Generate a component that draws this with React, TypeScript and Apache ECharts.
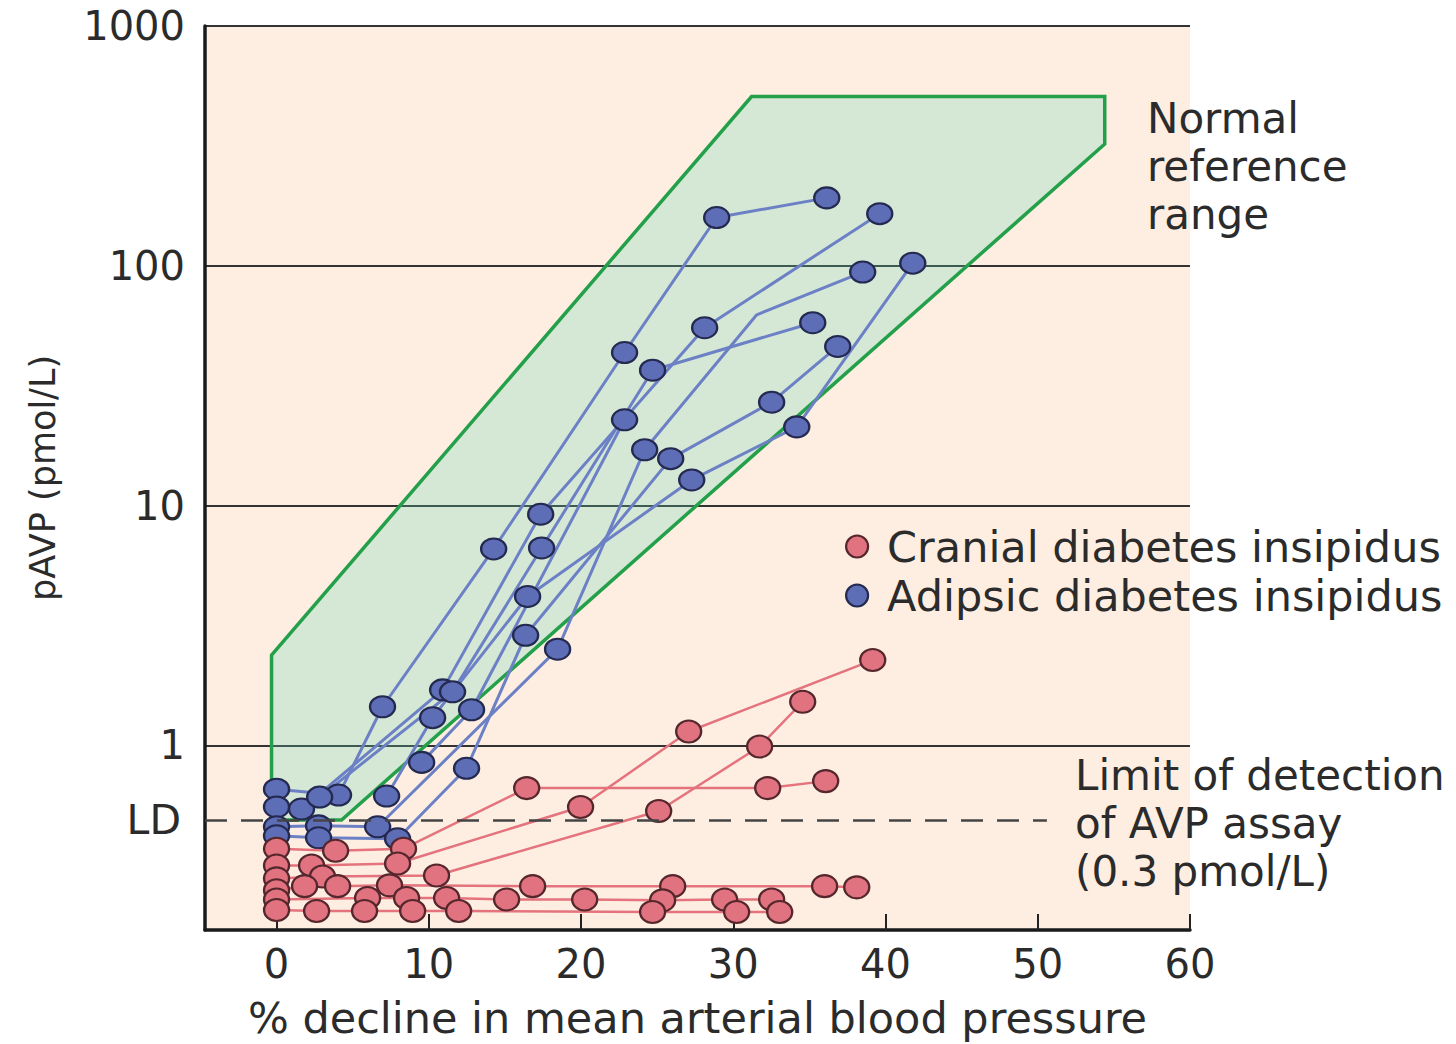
import React, { useEffect, useRef } from "react";
import * as echarts from "echarts";

// ---- axis / reference values ----
const xTickValues = [0, 10, 20, 30, 40, 50, 60];
const yTickValues = [1, 10, 100, 1000];
const LD_VALUE = 0.489; // "Limit of detection" line, drawn where it sits on the figure

// ---- normal reference range polygon (x %, pAVP) ----
const normalRange: [number, number][] = [
  [-0.33, 2.38],
  [31.2, 508],
  [54.4, 508],
  [54.4, 322],
  [4.27, 0.489],
  [-0.33, 0.489],
];

// ---- Adipsic diabetes insipidus (one list per patient); third value 0 = bend without marker ----
const adipsicA = [[0, 0.657], [4.07, 0.621], [6.96, 1.45], [14.26, 6.6], [22.86, 43.5], [28.91, 159], [36.14, 192]];
const adipsicB = [[0, 0.554], [1.64, 0.543], [10.91, 1.705], [17.35, 9.21], [28.12, 55.2], [39.62, 165]];
const adipsicC = [[2.83, 0.609], [11.56, 1.673], [17.41, 6.66], [24.7, 36.7], [35.22, 57.9]];
const adipsicD = [[0, 0.458], [2.76, 0.462], [6.64, 0.458], [18.46, 2.52], [24.18, 17.1], [31.54, 62.5, 0], [38.5, 94.2]];
const adipsicE = [[0, 0.42], [2.76, 0.412], [7.95, 0.408], [12.48, 0.803], [16.36, 2.88], [25.89, 15.7], [32.52, 27.0], [36.86, 46.1]];
const adipsicF = [[7.23, 0.615], [10.25, 1.306], [16.49, 4.18], [27.27, 12.8], [34.17, 21.3], [41.79, 102.6]];
const adipsicG = [[9.53, 0.85], [12.81, 1.409], [22.86, 22.8]];
const adipsicPatients = [adipsicA, adipsicB, adipsicC, adipsicD, adipsicE, adipsicF, adipsicG];

// ---- Cranial diabetes insipidus ----
const cranial1 = [[0, 0.371], [3.88, 0.364], [8.34, 0.371], [16.43, 0.664], [32.26, 0.664], [36.07, 0.71]];
const cranial2 = [[0, 0.316], [2.3, 0.316], [7.95, 0.322], [19.97, 0.554], [27.07, 1.143], [39.16, 2.27]];
const cranial3 = [[0, 0.279], [3.02, 0.284], [10.51, 0.287], [25.1, 0.533], [31.73, 0.99], [34.56, 1.52]];
const cranial4 = [[0, 0.249], [1.84, 0.259], [4.01, 0.259], [7.42, 0.261], [16.82, 0.259], [26.02, 0.259], [36.0, 0.259], [38.11, 0.256]];
const cranial5 = [[0, 0.228], [5.98, 0.231], [8.54, 0.231], [11.17, 0.231], [15.11, 0.228], [20.24, 0.228], [25.36, 0.226], [29.43, 0.228], [32.52, 0.228]];
const cranial6 = [[0, 0.206], [2.63, 0.204], [5.78, 0.204], [8.94, 0.204], [11.96, 0.204], [24.7, 0.202], [30.22, 0.202], [33.05, 0.202]];
const cranialPatients = [cranial1, cranial2, cranial3, cranial4, cranial5, cranial6];

const CRANIAL = "Cranial diabetes insipidus";
const ADIPSIC = "Adipsic diabetes insipidus";

const FONT = "DejaVu Sans";
const TEXT = "#2b2b2b";
const DOT_PATH = "path://M0,10a10,10 0 1,0 20,0a10,10 0 1,0 -20,0z";

const blueItem = { color: "#5d6db6", borderColor: "#242950", borderWidth: 2.2 };
const redItem = { color: "#e0737f", borderColor: "#55272d", borderWidth: 2.2 };

function toData(pts: number[][]) {
  return pts.map((p) =>
    p.length > 2 && p[2] === 0 ? { value: [p[0], p[1]], symbol: "none" } : [p[0], p[1]]
  );
}

export default function App() {
  const ref = useRef<HTMLDivElement>(null);

  useEffect(() => {
    document.body.style.margin = "0";
    if (!ref.current) return;
    const chart = echarts.init(ref.current, null, { renderer: "svg" });

    const blueSeries = adipsicPatients.map((pts) => ({
      name: ADIPSIC,
      type: "line",
      data: toData(pts),
      symbol: DOT_PATH,
      symbolSize: [25, 21],
      lineStyle: { color: "#6c80c6", width: 3 },
      itemStyle: blueItem,
      z: 3,
    }));

    const redSeries = cranialPatients.map((pts, i) => ({
      name: CRANIAL,
      type: "line",
      data: toData(pts),
      symbol: DOT_PATH,
      symbolSize: [25, 22],
      lineStyle: { color: "#e4737e", width: 2.5 },
      itemStyle: redItem,
      z: 4,
      ...(i === 0
        ? {
            markLine: {
              silent: true,
              symbol: "none",
              lineStyle: { color: "#444", width: 2.5, type: [22, 14] },
              label: {
                show: true,
                position: "start",
                formatter: "LD",
                fontSize: 41,
                fontFamily: FONT,
                color: TEXT,
                distance: 24,
              },
              data: [[{ coord: [-4.7, LD_VALUE] }, { coord: [50.6, LD_VALUE] }]],
            },
          }
        : {}),
    }));

    const option: any = {
      animation: false,
      backgroundColor: "#ffffff",
      textStyle: { fontFamily: FONT },
      grid: {
        left: 205,
        right: 266,
        top: 26,
        bottom: 107,
        show: true,
        backgroundColor: "#fdeee1",
        borderWidth: 0,
      },
      legend: {
        orient: "vertical",
        left: 840,
        top: 520,
        itemWidth: 24,
        itemHeight: 22,
        itemGap: 6,
        icon: DOT_PATH,
        textStyle: { fontSize: 43, color: TEXT, fontFamily: FONT, padding: [0, 0, 0, 13] },
        data: [
          { name: CRANIAL, itemStyle: redItem },
          { name: ADIPSIC, itemStyle: blueItem },
        ],
      },
      xAxis: {
        type: "value",
        min: -4.7,
        max: 60,
        name: "% decline in mean arterial blood pressure",
        nameLocation: "middle",
        nameGap: 66,
        nameTextStyle: { fontSize: 43, color: TEXT, fontFamily: FONT },
        axisLine: { show: true, onZero: false, lineStyle: { color: "#1a1a1a", width: 3.5 } },
        axisTick: {
          show: true,
          inside: true,
          length: 16,
          customValues: xTickValues,
          lineStyle: { color: "#222", width: 2 },
        },
        axisLabel: {
          customValues: xTickValues,
          fontSize: 40,
          color: TEXT,
          fontFamily: FONT,
          margin: 14,
        },
        splitLine: { show: false },
      },
      yAxis: {
        type: "log",
        logBase: 10,
        min: 0.17,
        max: 1000,
        name: "pAVP (pmol/L)",
        nameLocation: "middle",
        nameGap: 145,
        nameRotate: 90,
        nameTextStyle: { fontSize: 35, color: TEXT, fontFamily: FONT },
        axisLine: { show: true, onZero: false, lineStyle: { color: "#1a1a1a", width: 3.5 } },
        axisTick: { show: false },
        axisLabel: {
          fontSize: 40,
          color: TEXT,
          fontFamily: FONT,
          margin: 20,
          formatter: (v: number) => {
            const hit = yTickValues.find((t) => Math.abs(t - v) / t < 1e-6);
            return hit !== undefined ? String(hit) : "";
          },
        },
        splitLine: { show: true, lineStyle: { color: "#333", width: 2 } },
      },
      graphic: [
        {
          type: "text",
          x: 1147,
          y: 166,
          style: {
            text: "Normal\nreference\nrange",
            fontSize: 42,
            lineHeight: 48,
            fontFamily: FONT,
            fill: TEXT,
            verticalAlign: "middle",
            align: "left",
          },
        },
        {
          type: "text",
          x: 1075,
          y: 823,
          style: {
            text: "Limit of detection\nof AVP assay\n(0.3 pmol/L)",
            fontSize: 42,
            lineHeight: 48,
            fontFamily: FONT,
            fill: TEXT,
            verticalAlign: "middle",
            align: "left",
          },
        },
      ],
      series: [
        {
          name: "Normal reference range",
          type: "custom",
          z: 1,
          silent: true,
          data: [0],
          renderItem: (_params: any, api: any) => ({
            type: "polygon",
            shape: { points: normalRange.map((v) => api.coord(v)) },
            style: {
              fill: "rgba(97,210,181,0.25)",
              stroke: "#24a04a",
              lineWidth: 3.5,
              lineJoin: "miter",
            },
          }),
        },
        ...blueSeries,
        ...redSeries,
      ],
    };

    chart.setOption(option);
    return () => chart.dispose();
  }, []);

  return <div ref={ref} style={{ width: 1456, height: 1044 }} />;
}
